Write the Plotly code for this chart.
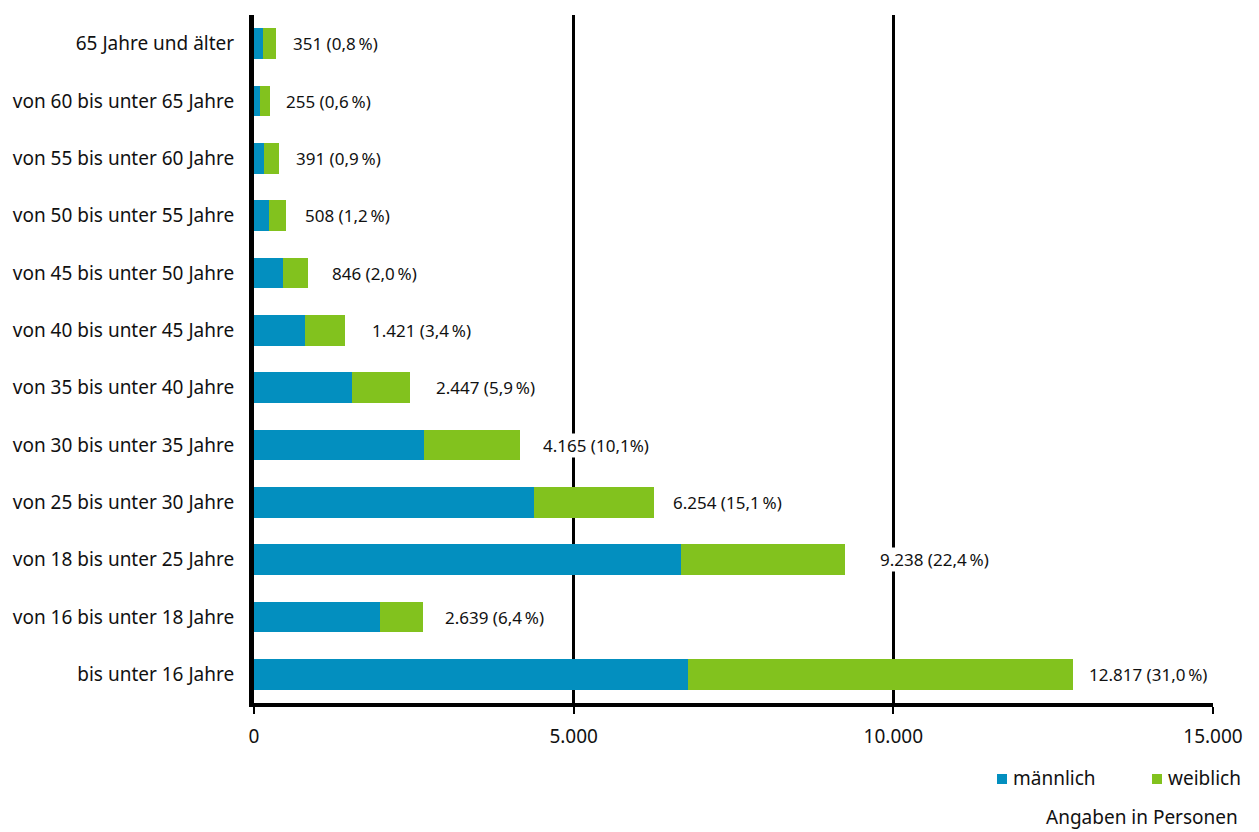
import plotly.graph_objects as go

# Altersgruppen (von oben nach unten)
categories = [
    "65 Jahre und älter",
    "von 60 bis unter 65 Jahre",
    "von 55 bis unter 60 Jahre",
    "von 50 bis unter 55 Jahre",
    "von 45 bis unter 50 Jahre",
    "von 40 bis unter 45 Jahre",
    "von 35 bis unter 40 Jahre",
    "von 30 bis unter 35 Jahre",
    "von 25 bis unter 30 Jahre",
    "von 18 bis unter 25 Jahre",
    "von 16 bis unter 18 Jahre",
    "bis unter 16 Jahre",
]
totals = [351, 255, 391, 508, 846, 1421, 2447, 4165, 6254, 9238, 2639, 12817]
maennlich = [141, 94, 156, 235, 454, 798, 1533, 2659, 4380, 6680, 1970, 6790]
weiblich = [t - m for t, m in zip(totals, maennlich)]
labels = [
    "351 (0,8\u202f%)", "255 (0,6\u202f%)", "391 (0,9\u202f%)", "508 (1,2\u202f%)",
    "846 (2,0\u202f%)", "1.421 (3,4\u202f%)", "2.447 (5,9\u202f%)", "4.165 (10,1%)",
    "6.254 (15,1\u202f%)", "9.238 (22,4\u202f%)", "2.639 (6,4\u202f%)", "12.817 (31,0\u202f%)",
]
series_names = ["männlich", "weiblich"]
x_ticks = [0, 5000, 10000, 15000]
x_ticktext = ["0", "5.000", "10.000", "15.000"]

# gap between bar end and value label, in px
label_gap_px = [16, 15, 16, 18, 23, 26, 25, 22, 18, 34, 21, 15]

BLUE = "#038FBF"
GREEN = "#82C21E"
FONT = "Noto Sans"
TEXT = "#111111"

W, H = 1259, 832
M_L, M_R, M_T, M_B = 254, 46, 15, 129
PW, PH = W - M_L - M_R, H - M_T - M_B


def px_x(px):
    """page pixel column -> paper x"""
    return (px - M_L) / PW


def px_y(py):
    """page pixel row -> paper y"""
    return (H - M_B - py) / PH


fig = go.Figure()
fig.add_trace(go.Bar(y=categories, x=maennlich, orientation="h", name=series_names[0],
                     marker=dict(color=BLUE, line=dict(width=0))))
fig.add_trace(go.Bar(y=categories, x=weiblich, orientation="h", name=series_names[1],
                     marker=dict(color=GREEN, line=dict(width=0))))

for cat, tot, lab, gap in zip(categories, totals, labels, label_gap_px):
    fig.add_annotation(x=tot, y=cat, text=lab, showarrow=False, xanchor="left",
                       xshift=gap, bgcolor="white", borderpad=0,
                       font=dict(family=FONT, size=17, color=TEXT))

# legend: small squares followed by the series name
for name, color, x0 in zip(series_names, [BLUE, GREEN], [997, 1152]):
    fig.add_shape(type="rect", xref="paper", yref="paper",
                  x0=px_x(x0), x1=px_x(x0 + 10), y0=px_y(784), y1=px_y(774),
                  fillcolor=color, line=dict(width=0))
    fig.add_annotation(xref="paper", yref="paper", x=px_x(x0 + 14), y=px_y(778),
                       xanchor="left", yanchor="middle", text=name, showarrow=False,
                       font=dict(family=FONT, size=19, color=TEXT))

fig.add_annotation(xref="paper", yref="paper", x=px_x(1240), y=px_y(817), xanchor="right",
                   yanchor="middle", text="Angaben in Personen", showarrow=False,
                   font=dict(family=FONT, size=19, color=TEXT))

fig.update_layout(
    width=W, height=H,
    margin=dict(l=M_L, r=M_R, t=M_T, b=M_B, autoexpand=False),
    paper_bgcolor="white", plot_bgcolor="white",
    barmode="stack", bargap=0.46,
    font=dict(family=FONT, size=17, color=TEXT),
    showlegend=False,
    xaxis=dict(range=[0, 15000], tickvals=x_ticks, ticktext=x_ticktext,
               showgrid=True, gridcolor="black", gridwidth=2.5,
               showline=True, linecolor="black", linewidth=4,
               ticks="outside", ticklen=7, tickwidth=2, tickcolor="black",
               ticklabelstandoff=6, zeroline=False, tickfont=dict(size=19)),
    yaxis=dict(categoryorder="array", categoryarray=categories[::-1],
               showline=True, linecolor="black", linewidth=5,
               ticks="", ticklabelstandoff=11, showgrid=False,
               tickfont=dict(size=19)),
)

fig.write_html("out.html")
